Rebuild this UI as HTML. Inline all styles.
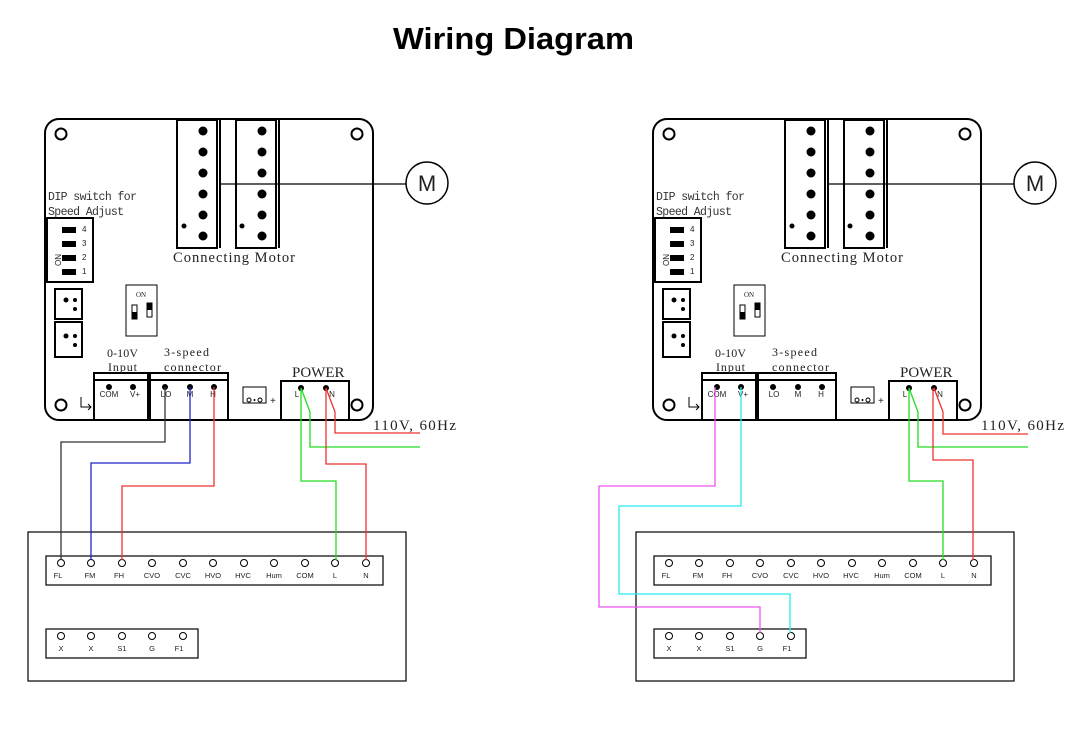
<!DOCTYPE html>
<html><head><meta charset="utf-8"><style>
html,body{margin:0;padding:0;background:#fff;}
svg{display:block}
.s{font-family:"Liberation Serif",serif;fill:#222}
.m{font-family:"Liberation Mono",monospace;fill:#333}
.a{font-family:"Liberation Sans",sans-serif;fill:#222}
</style></head><body>
<svg width="1081" height="737" viewBox="0 0 1081 737" xmlns="http://www.w3.org/2000/svg">
<text x="393" y="49" textLength="241" lengthAdjust="spacingAndGlyphs" font-family="Liberation Sans,sans-serif" font-weight="bold" font-size="31" fill="#000">Wiring Diagram</text>

<g>
<g fill="none" stroke="#000" stroke-width="2">
<rect x="45" y="119" width="328" height="301" rx="14"/>
<circle cx="61" cy="134" r="5.5"/><circle cx="357" cy="134" r="5.5"/>
<circle cx="61" cy="405" r="5.5"/><circle cx="357" cy="405" r="5.5"/>
<rect x="177" y="120" width="40" height="128"/><line x1="220" y1="120" x2="220" y2="248"/>
<rect x="236" y="120" width="40" height="128"/><line x1="279" y1="120" x2="279" y2="248"/>
<rect x="47" y="218" width="46" height="64"/>
<rect x="55" y="289" width="27" height="30"/><rect x="55" y="322" width="27" height="35"/>
<rect x="94" y="373" width="54" height="47"/><line x1="94" y1="380" x2="148" y2="380"/>
<rect x="150" y="373" width="78" height="47"/><line x1="150" y1="380" x2="228" y2="380"/>
<rect x="281" y="381" width="68" height="39"/>
</g>
<line x1="220" y1="184" x2="406" y2="184" stroke="#000" stroke-width="1.2"/>
<circle cx="427" cy="183" r="21" fill="#fff" stroke="#000" stroke-width="1.5"/>
<text x="427" y="191" text-anchor="middle" class="a" font-size="22">M</text>
<g fill="#000">
<circle cx="203" cy="131" r="4.5"/><circle cx="203" cy="152" r="4.5"/><circle cx="203" cy="173" r="4.5"/><circle cx="203" cy="194" r="4.5"/><circle cx="203" cy="215" r="4.5"/><circle cx="203" cy="236" r="4.5"/>
<circle cx="262" cy="131" r="4.5"/><circle cx="262" cy="152" r="4.5"/><circle cx="262" cy="173" r="4.5"/><circle cx="262" cy="194" r="4.5"/><circle cx="262" cy="215" r="4.5"/><circle cx="262" cy="236" r="4.5"/>
<circle cx="184" cy="226" r="2.5"/><circle cx="242" cy="226" r="2.5"/>
<rect x="62" y="227" width="14" height="6"/><rect x="62" y="241" width="14" height="6"/><rect x="62" y="255" width="14" height="6"/><rect x="62" y="269" width="14" height="6"/>
<circle cx="66" cy="300" r="2.5"/><circle cx="75" cy="300" r="2"/><circle cx="75" cy="309" r="2"/>
<circle cx="66" cy="336" r="2.5"/><circle cx="75" cy="336" r="2"/><circle cx="75" cy="345" r="2"/>
<circle cx="109" cy="387" r="3"/><circle cx="133" cy="387" r="3"/>
<circle cx="165" cy="387" r="3"/><circle cx="190" cy="387" r="3"/><circle cx="214" cy="387" r="3"/>
<circle cx="301" cy="388" r="3"/><circle cx="326" cy="388" r="3"/>
</g>
<g font-size="8" class="a"><text x="82" y="232">4</text><text x="82" y="246">3</text><text x="82" y="260">2</text><text x="82" y="274">1</text>
<text x="57" y="270" transform="rotate(-90 57 266)">ON</text></g>
<text x="48" y="200" class="m" font-size="11.5" textLength="89">DIP switch for</text>
<text x="48" y="215" class="m" font-size="11.5" textLength="76">Speed Adjust</text>
<text x="173" y="262" class="s" font-size="14.5" textLength="122">Connecting Motor</text>
<rect x="126" y="285" width="31" height="51" fill="none" stroke="#000"/>
<text x="136" y="297" class="s" font-size="7">ON</text>
<rect x="132" y="305" width="5" height="14" fill="#fff" stroke="#000"/><rect x="132" y="312" width="5" height="7"/>
<rect x="147" y="303" width="5" height="14" fill="#fff" stroke="#000"/><rect x="147" y="303" width="5" height="7"/>
<text x="107" y="357" class="s" font-size="12" textLength="31">0-10V</text><text x="108" y="371" class="s" font-size="12" textLength="29">Input</text>
<text x="164" y="356" class="s" font-size="12" textLength="45">3-speed</text><text x="164" y="371" class="s" font-size="12" textLength="57">connector</text>
<text x="292" y="377" class="s" font-size="15">POWER</text>
<g class="a" font-size="8" text-anchor="middle"><text x="109" y="397">COM</text><text x="135" y="397">V+</text><text x="166" y="397">LO</text><text x="190" y="397">M</text><text x="213" y="397">H</text><text x="297" y="397">L</text><text x="332" y="397">N</text></g>
<rect x="243" y="387" width="23" height="16" fill="none" stroke="#000"/>
<circle cx="249" cy="400" r="2" fill="none" stroke="#000"/><circle cx="260" cy="400" r="2" fill="none" stroke="#000"/><circle cx="254.5" cy="400" r="1" fill="#000"/>
<text x="270" y="404" class="a" font-size="10">+</text>
<path d="M81 397 V407 H91 M88 404 L91 407 L88 410" fill="none" stroke="#000"/>
<text x="373" y="430" class="s" font-size="15" textLength="83">110V, 60Hz</text>
<rect x="28" y="532" width="378" height="149" fill="none" stroke="#000" stroke-width="1.2"/>
<rect x="46" y="556" width="337" height="29" fill="none" stroke="#000" stroke-width="1.2"/>
<rect x="46" y="629" width="152" height="29" fill="none" stroke="#000" stroke-width="1.2"/>
<g fill="none" stroke="#000"><circle cx="61" cy="563" r="3.5"/><circle cx="91" cy="563" r="3.5"/><circle cx="122" cy="563" r="3.5"/><circle cx="152" cy="563" r="3.5"/><circle cx="183" cy="563" r="3.5"/><circle cx="213" cy="563" r="3.5"/><circle cx="244" cy="563" r="3.5"/><circle cx="274" cy="563" r="3.5"/><circle cx="305" cy="563" r="3.5"/><circle cx="335" cy="563" r="3.5"/><circle cx="366" cy="563" r="3.5"/>
<circle cx="61" cy="636" r="3.5"/><circle cx="91" cy="636" r="3.5"/><circle cx="122" cy="636" r="3.5"/><circle cx="152" cy="636" r="3.5"/><circle cx="183" cy="636" r="3.5"/></g>
<g class="a" font-size="7.5" text-anchor="middle"><text x="58" y="578">FL</text><text x="90" y="578">FM</text><text x="119" y="578">FH</text><text x="152" y="578">CVO</text><text x="183" y="578">CVC</text><text x="213" y="578">HVO</text><text x="243" y="578">HVC</text><text x="274" y="578">Hum</text><text x="305" y="578">COM</text><text x="335" y="578">L</text><text x="366" y="578">N</text>
<text x="61" y="651">X</text><text x="91" y="651">X</text><text x="122" y="651">S1</text><text x="152" y="651">G</text><text x="179" y="651">F1</text></g>
<g fill="none" stroke-width="1.3">
<path d="M301 388 V481 H336 V560" stroke="#2d2"/>
<path d="M301 388 L310 412 V447 H420" stroke="#2d2"/>
<path d="M326 388 V464 H366 V560" stroke="#e33"/>
<path d="M326 388 L335 412 V433 H420" stroke="#e33"/>
</g>
</g>

<g fill="none" stroke-width="1.3">
<path d="M165 387 V442 H61 V560" stroke="#333"/>
<path d="M190 387 V463 H91 V560" stroke="#22c"/>
<path d="M214 387 V486 H122 V560" stroke="#e33"/>
</g>

<g transform="translate(608,0)">
<g fill="none" stroke="#000" stroke-width="2">
<rect x="45" y="119" width="328" height="301" rx="14"/>
<circle cx="61" cy="134" r="5.5"/><circle cx="357" cy="134" r="5.5"/>
<circle cx="61" cy="405" r="5.5"/><circle cx="357" cy="405" r="5.5"/>
<rect x="177" y="120" width="40" height="128"/><line x1="220" y1="120" x2="220" y2="248"/>
<rect x="236" y="120" width="40" height="128"/><line x1="279" y1="120" x2="279" y2="248"/>
<rect x="47" y="218" width="46" height="64"/>
<rect x="55" y="289" width="27" height="30"/><rect x="55" y="322" width="27" height="35"/>
<rect x="94" y="373" width="54" height="47"/><line x1="94" y1="380" x2="148" y2="380"/>
<rect x="150" y="373" width="78" height="47"/><line x1="150" y1="380" x2="228" y2="380"/>
<rect x="281" y="381" width="68" height="39"/>
</g>
<line x1="220" y1="184" x2="406" y2="184" stroke="#000" stroke-width="1.2"/>
<circle cx="427" cy="183" r="21" fill="#fff" stroke="#000" stroke-width="1.5"/>
<text x="427" y="191" text-anchor="middle" class="a" font-size="22">M</text>
<g fill="#000">
<circle cx="203" cy="131" r="4.5"/><circle cx="203" cy="152" r="4.5"/><circle cx="203" cy="173" r="4.5"/><circle cx="203" cy="194" r="4.5"/><circle cx="203" cy="215" r="4.5"/><circle cx="203" cy="236" r="4.5"/>
<circle cx="262" cy="131" r="4.5"/><circle cx="262" cy="152" r="4.5"/><circle cx="262" cy="173" r="4.5"/><circle cx="262" cy="194" r="4.5"/><circle cx="262" cy="215" r="4.5"/><circle cx="262" cy="236" r="4.5"/>
<circle cx="184" cy="226" r="2.5"/><circle cx="242" cy="226" r="2.5"/>
<rect x="62" y="227" width="14" height="6"/><rect x="62" y="241" width="14" height="6"/><rect x="62" y="255" width="14" height="6"/><rect x="62" y="269" width="14" height="6"/>
<circle cx="66" cy="300" r="2.5"/><circle cx="75" cy="300" r="2"/><circle cx="75" cy="309" r="2"/>
<circle cx="66" cy="336" r="2.5"/><circle cx="75" cy="336" r="2"/><circle cx="75" cy="345" r="2"/>
<circle cx="109" cy="387" r="3"/><circle cx="133" cy="387" r="3"/>
<circle cx="165" cy="387" r="3"/><circle cx="190" cy="387" r="3"/><circle cx="214" cy="387" r="3"/>
<circle cx="301" cy="388" r="3"/><circle cx="326" cy="388" r="3"/>
</g>
<g font-size="8" class="a"><text x="82" y="232">4</text><text x="82" y="246">3</text><text x="82" y="260">2</text><text x="82" y="274">1</text>
<text x="57" y="270" transform="rotate(-90 57 266)">ON</text></g>
<text x="48" y="200" class="m" font-size="11.5" textLength="89">DIP switch for</text>
<text x="48" y="215" class="m" font-size="11.5" textLength="76">Speed Adjust</text>
<text x="173" y="262" class="s" font-size="14.5" textLength="122">Connecting Motor</text>
<rect x="126" y="285" width="31" height="51" fill="none" stroke="#000"/>
<text x="136" y="297" class="s" font-size="7">ON</text>
<rect x="132" y="305" width="5" height="14" fill="#fff" stroke="#000"/><rect x="132" y="312" width="5" height="7"/>
<rect x="147" y="303" width="5" height="14" fill="#fff" stroke="#000"/><rect x="147" y="303" width="5" height="7"/>
<text x="107" y="357" class="s" font-size="12" textLength="31">0-10V</text><text x="108" y="371" class="s" font-size="12" textLength="29">Input</text>
<text x="164" y="356" class="s" font-size="12" textLength="45">3-speed</text><text x="164" y="371" class="s" font-size="12" textLength="57">connector</text>
<text x="292" y="377" class="s" font-size="15">POWER</text>
<g class="a" font-size="8" text-anchor="middle"><text x="109" y="397">COM</text><text x="135" y="397">V+</text><text x="166" y="397">LO</text><text x="190" y="397">M</text><text x="213" y="397">H</text><text x="297" y="397">L</text><text x="332" y="397">N</text></g>
<rect x="243" y="387" width="23" height="16" fill="none" stroke="#000"/>
<circle cx="249" cy="400" r="2" fill="none" stroke="#000"/><circle cx="260" cy="400" r="2" fill="none" stroke="#000"/><circle cx="254.5" cy="400" r="1" fill="#000"/>
<text x="270" y="404" class="a" font-size="10">+</text>
<path d="M81 397 V407 H91 M88 404 L91 407 L88 410" fill="none" stroke="#000"/>
<text x="373" y="430" class="s" font-size="15" textLength="83">110V, 60Hz</text>
<rect x="28" y="532" width="378" height="149" fill="none" stroke="#000" stroke-width="1.2"/>
<rect x="46" y="556" width="337" height="29" fill="none" stroke="#000" stroke-width="1.2"/>
<rect x="46" y="629" width="152" height="29" fill="none" stroke="#000" stroke-width="1.2"/>
<g fill="none" stroke="#000"><circle cx="61" cy="563" r="3.5"/><circle cx="91" cy="563" r="3.5"/><circle cx="122" cy="563" r="3.5"/><circle cx="152" cy="563" r="3.5"/><circle cx="183" cy="563" r="3.5"/><circle cx="213" cy="563" r="3.5"/><circle cx="244" cy="563" r="3.5"/><circle cx="274" cy="563" r="3.5"/><circle cx="305" cy="563" r="3.5"/><circle cx="335" cy="563" r="3.5"/><circle cx="366" cy="563" r="3.5"/>
<circle cx="61" cy="636" r="3.5"/><circle cx="91" cy="636" r="3.5"/><circle cx="122" cy="636" r="3.5"/><circle cx="152" cy="636" r="3.5"/><circle cx="183" cy="636" r="3.5"/></g>
<g class="a" font-size="7.5" text-anchor="middle"><text x="58" y="578">FL</text><text x="90" y="578">FM</text><text x="119" y="578">FH</text><text x="152" y="578">CVO</text><text x="183" y="578">CVC</text><text x="213" y="578">HVO</text><text x="243" y="578">HVC</text><text x="274" y="578">Hum</text><text x="305" y="578">COM</text><text x="335" y="578">L</text><text x="366" y="578">N</text>
<text x="61" y="651">X</text><text x="91" y="651">X</text><text x="122" y="651">S1</text><text x="152" y="651">G</text><text x="179" y="651">F1</text></g>
<g fill="none" stroke-width="1.3">
<path d="M301 388 V481 H335 V560" stroke="#2d2"/>
<path d="M301 388 L310 412 V447 H420" stroke="#2d2"/>
<path d="M325 388 V460 H365 V560" stroke="#e33"/>
<path d="M326 388 L335 412 V434 H420" stroke="#e33"/>
<path d="M107 387 V486 H-9 V607 H152 V633" stroke="#e5e"/>
<path d="M133 387 V506 H11 V594 H182 V633" stroke="#2ee"/>
</g>
</g>
</svg>
</body></html>
